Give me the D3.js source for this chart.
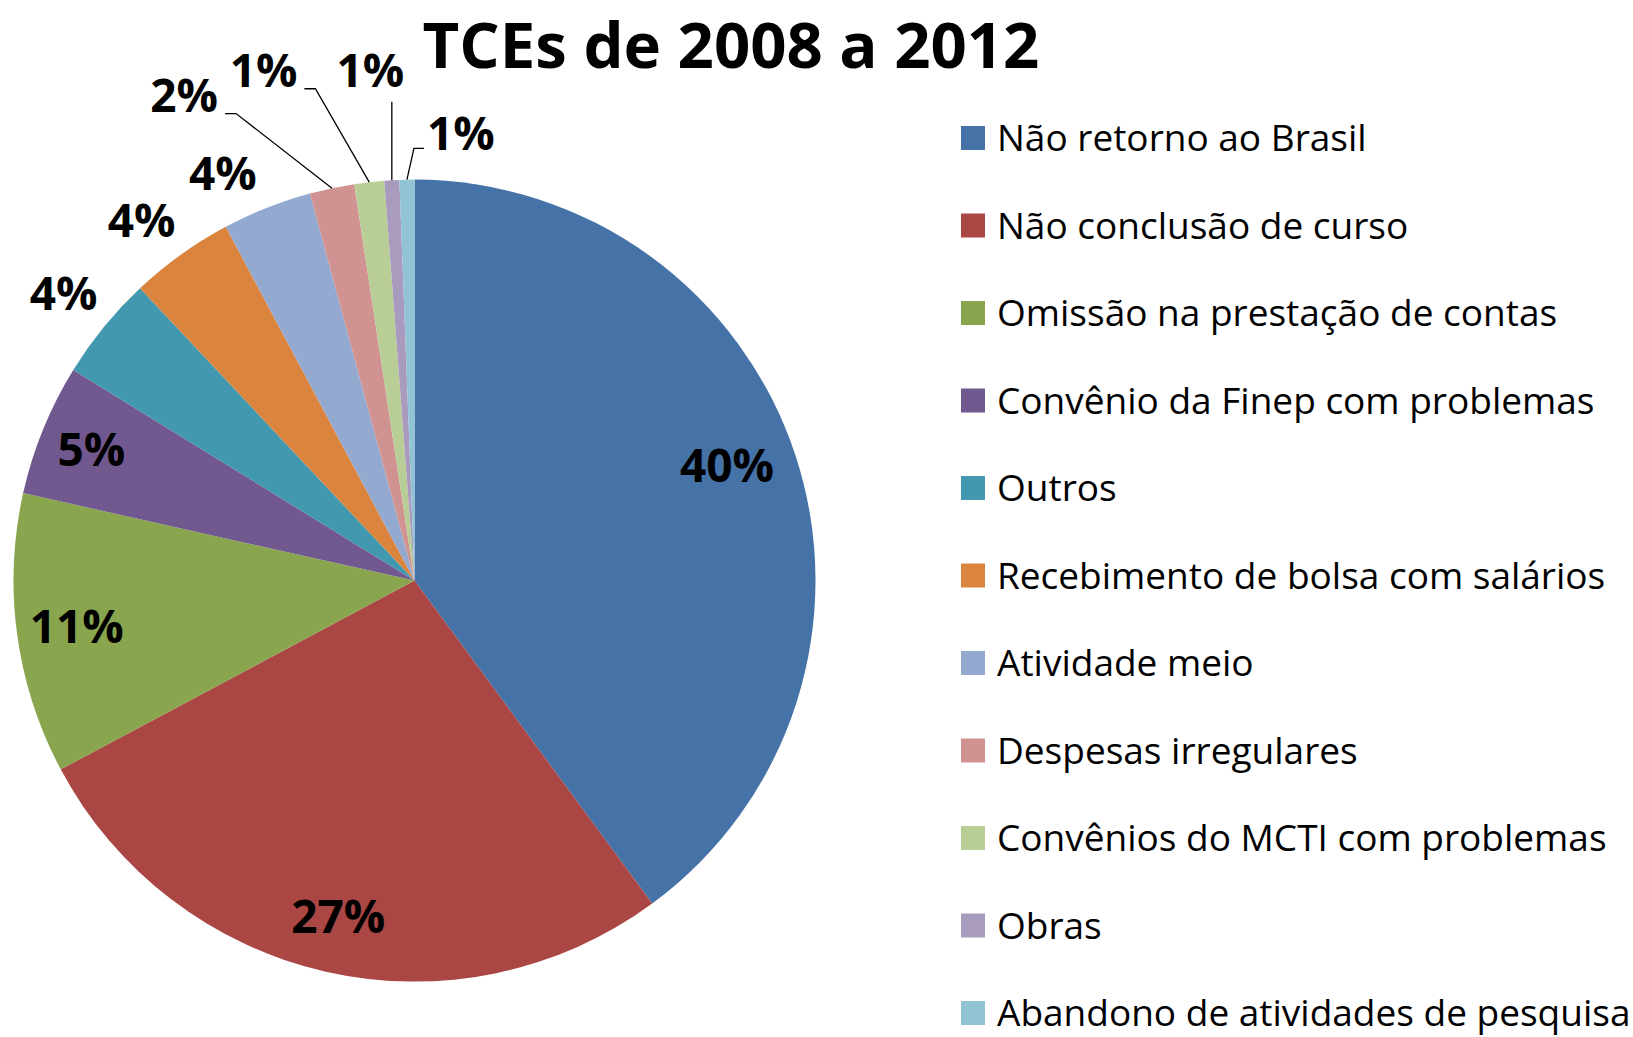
<!DOCTYPE html>
<html>
<head>
<meta charset="utf-8">
<script src="https://cdn.jsdelivr.net/npm/d3@7"></script>
<style>
  html, body { margin: 0; padding: 0; background: #fff; }
  svg { display: block; }
  text { font-family: "Open Sans", "Noto Sans", sans-serif; fill: #000; }
</style>
</head>
<body>
<div id="graphicContainer"></div>
<script>

const title = "TCEs de 2008 a 2012"

const categories = [
  "Não retorno ao Brasil",
  "Não conclusão de curso",
  "Omissão na prestação de contas",
  "Convênio da Finep com problemas",
  "Outros",
  "Recebimento de bolsa com salários",
  "Atividade meio",
  "Despesas irregulares",
  "Convênios do MCTI com problemas",
  "Obras",
  "Abandono de atividades de pesquisa"
]

// share of each category, in percent
const values = [39.9, 27.3, 11.3, 5.3, 4.2, 4.2, 3.6, 1.8, 1.2, 0.6, 0.6]

const colorList = [
  "#4572A7", "#AA4643", "#89A54E", "#71588F", "#4198AF", "#DB843D",
  "#93A9CF", "#D19392", "#B9CD96", "#A99BBD", "#92C3D5"
]

// where each data label sits: inside the slice or outside (radius factor, angle shift in degrees)
const labelLayout = [
  { out: false, r: 0.83, da: -2 },
  { out: false, r: 0.86, da: 0 },
  { out: false, r: 0.85, da: 0 },
  { out: false, r: 0.87, da: 0 },
  { out: true, r: 1.13, da: 0 },
  { out: true, r: 1.127, da: -1.5 },
  { out: true, r: 1.123, da: -3.6 },
  { out: true, r: 1.34, da: -13.5, leader: true },
  { out: true, r: 1.327, da: -10, leader: true },
  { out: true, r: 1.277, da: -1.7, leader: true },
  { out: true, r: 1.12, da: 7, leader: true }
]

const width = 1633
const height = 1037
const cx = 414.5
const cy = 580.6
const radius = 401

const labelSize = 46
const capRatio = 0.714

const svg = d3.select("#graphicContainer")
  .append("svg")
  .attr("width", width)
  .attr("height", height)

const total = d3.sum(values)

const data = categories.map((c, i) => ({ name: c, value: values[i], color: colorList[i], layout: labelLayout[i] }))

const pie = d3.pie()
  .sort(null)
  .value(d => d.value)
  .startAngle(0)
  .endAngle(2 * Math.PI)

const arc = d3.arc()
  .innerRadius(0)
  .outerRadius(radius)

const arcs = pie(data)

const chart = svg.append("g")
  .attr("transform", `translate(${cx},${cy})`)

chart.selectAll(".slice")
  .data(arcs)
  .enter()
  .append("path")
  .attr("class", "slice")
  .attr("d", arc)
  .attr("fill", d => d.data.color)

const polar = (angle, r) => [Math.sin(angle) * r, -Math.cos(angle) * r]

const labels = chart.selectAll(".pieLabel")
  .data(arcs)
  .enter()
  .append("text")
  .attr("class", "pieLabel")
  .attr("text-anchor", "middle")
  .style("font-size", labelSize + "px")
  .style("font-weight", 700)
  .each(function(d) {
    const mid = (d.startAngle + d.endAngle) / 2 + d.data.layout.da * Math.PI / 180
    const [x, y] = polar(mid, radius * d.data.layout.r)
    d.lx = x
    d.ly = y + labelSize * capRatio / 2
    d3.select(this).attr("x", d.lx).attr("y", d.ly)
  })
  .text(d => Math.round(d.value / total * 100) + "%")

// leader lines for the small slices at the top
labels.filter(d => d.data.layout.leader).each(function(d) {
  const box = this.getBBox()
  const mid = (d.startAngle + d.endAngle) / 2
  const [ax, ay] = polar(mid, radius)
  let pts
  if (ax > box.x + box.width + 2) {
    const y0 = d.ly + 2
    pts = [[box.x + box.width + 7, y0], [box.x + box.width + 18, y0], [ax, ay]]
  } else if (ax < box.x - 2) {
    const y0 = d.ly - 2
    pts = [[box.x - 3, y0], [box.x - 13, y0], [ax, ay]]
  } else {
    pts = [[ax, d.ly + 15], [ax, ay]]
  }
  chart.append("path")
    .attr("d", d3.line()(pts))
    .attr("fill", "none")
    .attr("stroke", "#000")
    .attr("stroke-width", 1.3)
})

svg.append("text")
  .attr("x", 731)
  .attr("y", 68)
  .attr("text-anchor", "middle")
  .style("font-size", "63.5px")
  .style("font-weight", 700)
  .text(title)

// legend
const legendY = d3.scalePoint()
  .domain(categories)
  .range([138, 1013])

const legend = svg.append("g")
  .attr("class", "legend")

const keyRow = legend.selectAll(".keyRow")
  .data(data)
  .enter()
  .append("g")
  .attr("class", "keyRow")
  .attr("transform", d => `translate(961,${legendY(d.name)})`)

keyRow.append("rect")
  .attr("x", 0)
  .attr("y", -12)
  .attr("width", 24)
  .attr("height", 24)
  .attr("fill", d => d.color)

keyRow.append("text")
  .attr("x", 36)
  .attr("y", 13)
  .style("font-size", "37px")
  .text(d => d.name)

</script>
</body>
</html>
